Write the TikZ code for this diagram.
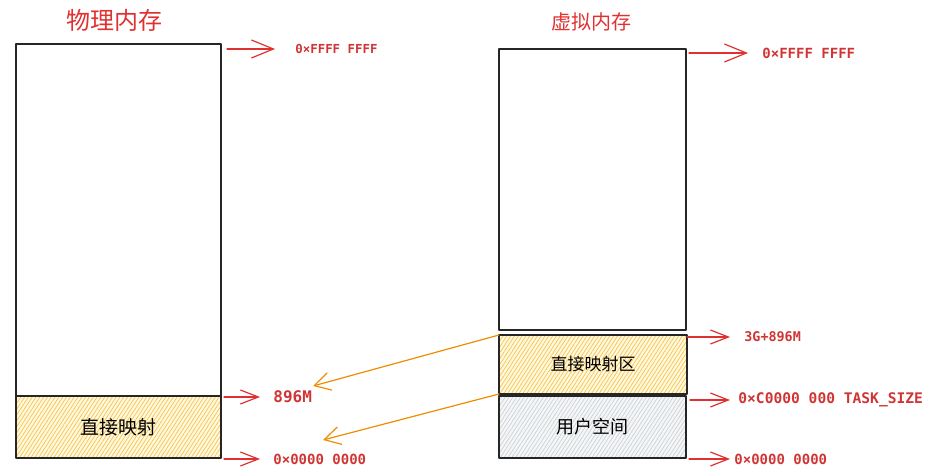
\documentclass[tikz,border=0pt]{standalone}
\usepackage{fontspec}
\newfontfamily\cjkfont{Noto Sans CJK SC}
\newfontfamily\addrfont{DejaVu Sans Mono}
\usetikzlibrary{arrows.meta,patterns.meta}
\definecolor{titlered}{HTML}{E03131}
\definecolor{addrred}{HTML}{D03535}
\definecolor{arrred}{HTML}{E03131}
\definecolor{arrorange}{HTML}{F08C00}
\definecolor{hatchyellow}{HTML}{F7C548}
\definecolor{bgyellow}{HTML}{FFF8E0}
\definecolor{hatchgray}{HTML}{CDD2D6}
\definecolor{bggray}{HTML}{F5F6F7}
\tikzset{
	memblock/.style={draw=black!85, line width=0.9pt, anchor=north west, inner sep=0pt, outer sep=0pt},
	memtitle/.style={text=titlered, inner sep=0pt, font=\cjkfont\fontsize{#1}{#1}\selectfont},
	addr/.style={anchor=west, inner sep=0pt, text=addrred, font=\addrfont\bfseries\fontsize{#1}{#1}\selectfont},
	cjk/.style={font=\cjkfont\fontsize{#1}{#1}\selectfont},
	yhatch/.style={preaction={fill=bgyellow}, pattern={Lines[angle=57,distance=1.6pt,line width=0.35pt]}, pattern color=hatchyellow},
	ghatch/.style={preaction={fill=bggray}, pattern={Lines[angle=57,distance=1.6pt,line width=0.35pt]}, pattern color=hatchgray},
	redarr/.style={draw=arrred, line width=0.6pt, -{Straight Barb[length=9pt,width=7pt]}},
	bigtip/.style={-{Straight Barb[length=11pt,width=9pt]}},
	orangearr/.style={draw=arrorange, line width=0.6pt, -{Straight Barb[length=8pt,width=9pt]}},
}
\begin{document}
\begin{tikzpicture}[x=0.5pt,y=-0.5pt, line join=round, line cap=round]
	\useasboundingbox (0,0) rectangle (939,476);
	% physical memory
	\node[memtitle=12] (physname) at (115,20) {物理内存};
	\node[memblock, minimum width=102.5pt, minimum height=176pt] (physhigh) at (16,44) {};
	\node[memblock, yhatch, cjk=9.5, minimum width=102.5pt, minimum height=31pt] (physdm) at (16,396) {直接映射};
	% virtual memory
	\node[memtitle=10] (virtname) at (591,22) {虚拟内存};
	\node[memblock, minimum width=93.5pt, minimum height=140.5pt] (virthigh) at (499,49) {};
	\node[memblock, yhatch, cjk=8.5, minimum width=94pt, minimum height=29.5pt] (virtdm) at (499,335) {直接映射区};
	\node[memblock, ghatch, cjk=9, minimum width=93.5pt, minimum height=31pt] (virtuser) at (499,396) {用户空间};
	% addresses
	\node[addr=6.2] (phystop) at (295,49) {0×FFFF FFFF};
	\node[addr=8] (phys896) at (273,397) {896M};
	\node[addr=7] (physzero) at (273,459) {0×0000 0000};
	\node[addr=7] (virttop) at (762,53) {0×FFFF FFFF};
	\node[addr=6.7] (virt3g) at (744,337) {3G+896M};
	\node[addr=7.3] (virttask) at (738,400) {0×C0000 000 TASK\_SIZE};
	\node[addr=7] (virtzero) at (734,459) {0×0000 0000};
	\foreach \lbl/\blk/\gapa/\gapb in {phys896/physhigh/1.5/6.5, physzero/physhigh/1.5/6.5,
		virt3g/virthigh/0.5/7, virttask/virthigh/2/4, virtzero/virthigh/1.5/2}
	\draw[redarr, shorten <=\gapa pt, shorten >=\gapb pt] (\lbl.west -| \blk.east) -- (\lbl.west);
	\draw[redarr, bigtip, shorten <=3pt, shorten >=10pt] (phystop.west -| physhigh.east) -- (phystop.west);
	\draw[redarr, bigtip, shorten <=1.5pt, shorten >=7pt] (virttop.west -| virthigh.east) -- (virttop.west);
	% mapping
	\coordinate (dmhigh) at (313,386);
	\coordinate (dmlow) at (323,440);
	\draw[orangearr] (virtdm.north west) -- (dmhigh);
	\draw[orangearr] (virtdm.south west) -- (dmlow);
\end{tikzpicture}
\end{document}
